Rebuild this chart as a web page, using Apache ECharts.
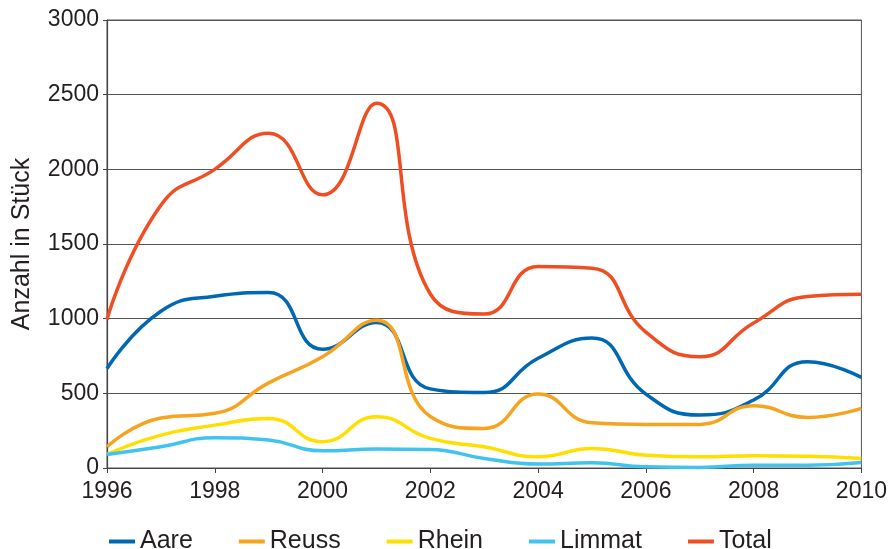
<!DOCTYPE html>
<html>
<head>
<meta charset="utf-8">
<script src="https://cdn.jsdelivr.net/npm/echarts@6/dist/echarts.min.js"></script>
<style>
  html, body { margin: 0; padding: 0; background: #fff; }
  #chart { width: 890px; height: 549px; }
</style>
</head>
<body>
<div id="chart"></div>
<script>
// Jahre
const years = [1996, 1997, 1998, 1999, 2000, 2001, 2002, 2003, 2004, 2005, 2006, 2007, 2008, 2009, 2010]
// Werte pro Fluss
const aare   = [665, 1050, 1150, 1175, 795, 975, 530, 505, 735, 870, 495, 355, 455, 712, 607]
const reuss  = [142, 335, 366, 570, 745, 990, 345, 265, 495, 303, 292, 292, 417, 339, 399]
const rhein  = [91, 220, 287, 332, 176, 343, 198, 142, 75, 131, 86, 75, 82, 78, 64]
const limmat = [91, 142, 203, 187, 115, 127, 124, 64, 26, 35, 8, 4, 19, 19, 37]
const total  = [995, 1760, 2000, 2242, 1829, 2443, 1165, 1031, 1349, 1338, 910, 745, 971, 1148, 1163]

const names  = ['Aare', 'Reuss', 'Rhein', 'Limmat', 'Total']
const values = [aare, reuss, rhein, limmat, total]
const colors = ['#0068b3', '#f6a31f', '#ffdf00', '#41c3f0', '#ef4e23']

const font = 'Liberation Sans, Arial, sans-serif'
const ink = '#231f20'

const chart = echarts.init(document.getElementById('chart'))

// Total liegt oben
const series = names.map((name, i) => ({
  name: name,
  type: 'line',
  smooth: 0.5,
  symbol: 'none',
  z: i === 4 ? 5 : 2 + i,
  lineStyle: { color: colors[i], width: 3.5 },
  itemStyle: { color: colors[i] },
  data: years.map((y, k) => [y, values[i][k]])
}))

chart.setOption({
  animation: false,
  textStyle: { fontFamily: font },
  grid: {
    left: 107, right: 28, top: 20, bottom: 81,
    show: true, borderColor: '#555', borderWidth: 1
  },
  legend: {
    left: 104, top: 524,
    icon: 'rect', itemWidth: 26, itemHeight: 4, itemGap: 46,
    textStyle: { fontSize: 25, color: ink, fontFamily: font },
    data: names
  },
  xAxis: {
    type: 'value',
    min: 1996, max: 2010, interval: 2,
    axisLine: { lineStyle: { color: '#444', width: 1.2 } },
    axisTick: { show: true, length: 5, lineStyle: { color: '#444' } },
    axisLabel: { fontSize: 23, color: ink, margin: 12, formatter: v => String(v) },
    splitLine: { show: false }
  },
  yAxis: {
    type: 'value',
    min: 0, max: 3000, interval: 500,
    name: 'Anzahl in Stück',
    nameLocation: 'middle',
    nameGap: 72,
    nameTextStyle: { fontSize: 25, color: ink },
    axisLine: { show: true, lineStyle: { color: '#444', width: 1.2 } },
    axisTick: { show: true, length: 4, lineStyle: { color: '#444' } },
    axisLabel: { fontSize: 23, color: ink, margin: 8, formatter: v => String(v) },
    splitLine: { lineStyle: { color: '#555', width: 1.2 } }
  },
  series: series
})
</script>
</body>
</html>
